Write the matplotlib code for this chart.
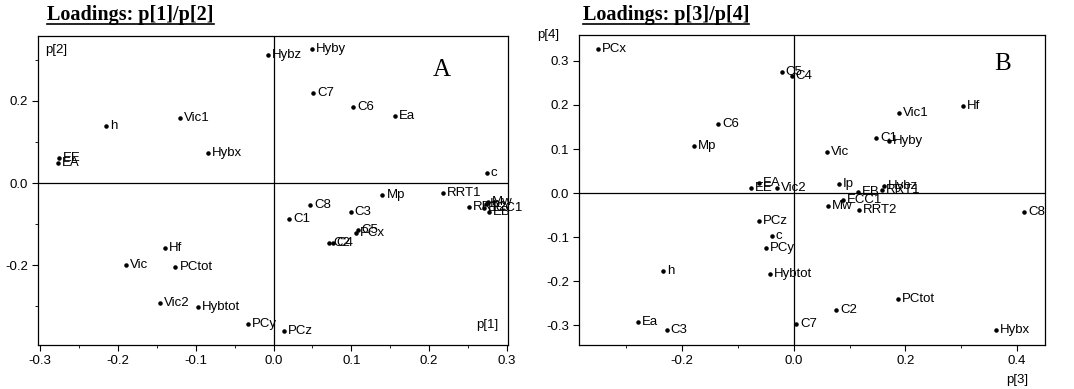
import matplotlib
matplotlib.use("Agg")
import matplotlib.pyplot as plt
from matplotlib.ticker import MultipleLocator
from matplotlib.lines import Line2D

# panel A: loadings p[1] / p[2]
names_a = ["Hybz", "Hyby", "C7", "C6", "Ea", "Vic1", "h", "EE", "EA", "Hybx",
           "c", "RRT1", "Mp", "C8", "C3", "C1", "C5", "PCx", "C2", "C4",
           "Hf", "Vic", "PCtot", "Vic2", "Hybtot", "PCy", "PCz",
           "RRT2", "Mw", "EB", "ECC1", "Ip"]
p1 = [-0.007, 0.049, 0.051, 0.102, 0.156, -0.120, -0.215, -0.276, -0.277, -0.084,
      0.274, 0.218, 0.140, 0.047, 0.099, 0.020, 0.108, 0.106, 0.071, 0.076,
      -0.140, -0.190, -0.126, -0.146, -0.097, -0.033, 0.013,
      0.251, 0.275, 0.277, 0.270, 0.273]
p2 = [0.312, 0.327, 0.220, 0.185, 0.163, 0.158, 0.139, 0.061, 0.049, 0.072,
      0.024, -0.024, -0.029, -0.054, -0.070, -0.088, -0.115, -0.122, -0.146, -0.146,
      -0.159, -0.200, -0.205, -0.293, -0.302, -0.344, -0.361,
      -0.058, -0.046, -0.071, -0.062, -0.052]

# panel B: loadings p[3] / p[4]
names_b = ["PCx", "C5", "C4", "Vic1", "Hf", "C6", "Mp", "C1", "Hyby", "Vic",
           "EE", "EA", "Vic2", "Ip", "Hybz", "EB", "RRT1", "ECC1", "Mw", "RRT2",
           "C8", "PCz", "c", "PCy", "h", "Hybtot", "PCtot", "C2", "C7", "Ea",
           "C3", "Hybx"]
p3 = [-0.351, -0.022, -0.004, 0.188, 0.303, -0.136, -0.179, 0.147, 0.170, 0.059,
      -0.077, -0.063, -0.031, 0.081, 0.161, 0.115, 0.158, 0.088, 0.061, 0.117,
      0.412, -0.063, -0.040, -0.050, -0.235, -0.043, 0.186, 0.075, 0.004, -0.280,
      -0.228, 0.362]
p4 = [0.327, 0.275, 0.266, 0.182, 0.198, 0.157, 0.107, 0.125, 0.118, 0.093,
      0.011, 0.023, 0.011, 0.020, 0.016, 0.002, 0.007, -0.016, -0.030, -0.039,
      -0.043, -0.063, -0.097, -0.124, -0.178, -0.184, -0.240, -0.265, -0.297, -0.292,
      -0.311, -0.311]

plt.rcParams['font.family'] = ['Liberation Sans', 'DejaVu Sans']
plt.rcParams['axes.unicode_minus'] = False

fig = plt.figure(figsize=(10.74, 3.89), dpi=100)
ax_a = fig.add_axes([0.0354, 0.1131, 0.4376, 0.7944])
ax_b = fig.add_axes([0.5391, 0.1131, 0.4339, 0.7970])


def loading_plot(ax, names, xs, ys):
    ax.scatter(xs, ys, s=5, color='black', zorder=3)
    for n, x, y in zip(names, xs, ys):
        ax.annotate(n, (x, y), xytext=(3, 0), textcoords='offset points',
                    ha='left', va='center', fontsize=9.5, color='black')
    ax.axhline(0, color='black', lw=0.9, zorder=1)
    ax.axvline(0, color='black', lw=0.9, zorder=1)
    ax.tick_params(which='major', direction='out', length=4, width=0.8,
                   labelsize=9.5, pad=3)
    ax.tick_params(which='minor', direction='out', length=2.5, width=0.6)
    for sp in ax.spines.values():
        sp.set_linewidth(0.9)


loading_plot(ax_a, names_a, p1, p2)
ax_a.set_xlim(-0.3026, 0.3013)
ax_a.set_ylim(-0.395, 0.3585)
ax_a.xaxis.set_major_locator(MultipleLocator(0.1))
ax_a.xaxis.set_minor_locator(MultipleLocator(0.05))
ax_a.yaxis.set_major_locator(MultipleLocator(0.2))
ax_a.yaxis.set_minor_locator(MultipleLocator(0.1))
ax_a.text(0.015, 0.955, "p[2]", transform=ax_a.transAxes, ha='left', va='center', fontsize=9.5)
ax_a.text(0.979, 0.065, "p[1]", transform=ax_a.transAxes, ha='right', va='center', fontsize=9.5)
ax_a.text(0.86, 0.89, "A", transform=ax_a.transAxes, ha='center', va='center',
          fontsize=18, family='Liberation Serif')

loading_plot(ax_b, names_b, p3, p4)
ax_b.set_xlim(-0.385, 0.450)
ax_b.set_ylim(-0.345, 0.359)
ax_b.xaxis.set_major_locator(MultipleLocator(0.2))
ax_b.xaxis.set_minor_locator(MultipleLocator(0.1))
ax_b.yaxis.set_major_locator(MultipleLocator(0.1))
ax_b.text(0.908, 0.906, "B", transform=ax_b.transAxes, ha='center', va='center',
          fontsize=18, family='Liberation Serif')
fig.text(0.510, 0.910, "p[4]", ha='center', va='center', fontsize=9.5)
fig.text(0.947, 0.023, "p[3]", ha='center', va='center', fontsize=9.5)

# underlined serif titles
titles = [("Loadings: p[1]/p[2]", 47 / 1074), ("Loadings: p[3]/p[4]", 583 / 1074)]
tobjs = []
for t, x in titles:
    tobjs.append(fig.text(x, 0.962, t, ha='left', va='center', fontsize=14.5,
                          fontweight='bold', family='Liberation Serif'))
fig.canvas.draw()
inv = fig.transFigure.inverted()
for tt in tobjs:
    bb = tt.get_window_extent().transformed(inv)
    fig.add_artist(Line2D([bb.x0, bb.x1], [bb.y0 + 0.003, bb.y0 + 0.003],
                          transform=fig.transFigure, color='black', lw=1.2))

fig.savefig("out.png", dpi=100)
